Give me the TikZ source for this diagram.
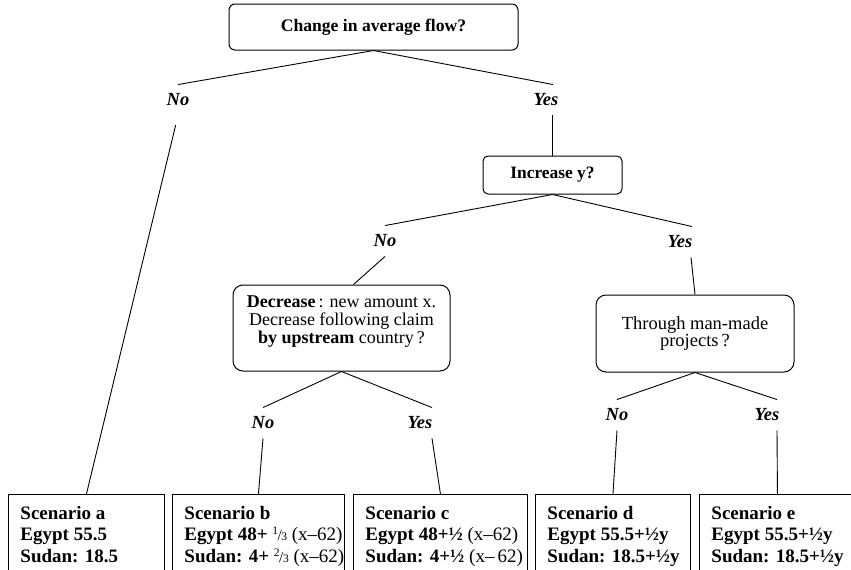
\documentclass[tikz,border=0pt]{standalone}
\usepackage{fontspec}
\setmainfont{Liberation Serif}
\newcommand\myfrac[2]{\raisebox{0.75ex}{\fontsize{11.5}{11.5}\selectfont\mdseries #1}\kern-0.5pt{\fontsize{15.5}{15.5}\selectfont\mdseries /}\kern-0.5pt{\fontsize{11.5}{11.5}\selectfont\mdseries #2}}
\begin{document}
\begin{tikzpicture}[x=1pt,y=-1pt,line width=0.9pt,
  qbox/.style={draw, line width=1pt, rounded corners=#1, inner sep=0pt, align=center},
  qbox/.default=6pt,
  qtext/.style={inner sep=0pt, align=center, font=\fontsize{18}{17.6}\selectfont},
  lbl/.style={font=\fontsize{18.5}{20}\selectfont\bfseries\itshape, inner sep=0pt, minimum height=30pt},
  scen/.style={anchor=north west, inner sep=0pt, minimum height=90pt},
  stext/.style={anchor=north west, xshift=12pt, yshift=-11.5pt, inner sep=0pt, align=left,
    font=\fontsize{19}{21.7}\selectfont\bfseries},
  frame/.style={line width=1pt}
]
\useasboundingbox (0,0) rectangle (851,570);
\clip (0,0) rectangle (851,570);

% question boxes
\node[qbox=6pt, minimum width=289pt, minimum height=46pt,
  font=\fontsize{17.6}{19}\selectfont\bfseries] (top) at (373.5,27) {\raisebox{-1.5pt}{Change in average flow?}};
\node[qbox=5pt, minimum width=139pt, minimum height=38pt,
  font=\fontsize{17.4}{19}\selectfont\bfseries] (inc) at (552.5,175) {Increase y?};
\node[qbox=10pt, minimum width=217pt, minimum height=86pt,
  label={[qtext, anchor=center, yshift=50pt]south:{\textbf{Decrease}\,: new amount x.\\Decrease following claim\\\textbf{by upstream} country\,?}}] (dec) at (341.5,328) {};
\node[qbox=10pt, minimum width=198pt, minimum height=77pt,
  font=\fontsize{18.5}{17.5}\selectfont] (thr) at (695,333.5) {Through man-made\\projects\,?};

% labels
\node[lbl] (no1) at (178,100) {No};
\node[lbl] (yes1) at (546,100) {Yes};
\node[lbl] (no2) at (385,241) {No};
\node[lbl] (yes2) at (680,242) {Yes};
\node[lbl] (no3) at (263,423) {No};
\node[lbl] (yes3) at (420,423) {Yes};
\node[lbl] (no4) at (617,415) {No};
\node[lbl] (yes4) at (767,415) {Yes};

% scenario boxes
\node[scen, minimum width=156pt, label={[stext]north west:{Scenario a\\Egypt 55.5\\Sudan: 18.5}}] (sa) at (8,494) {};
\node[scen, minimum width=172pt, label={[stext]north west:{Scenario b\\Egypt 48+ \myfrac{1}{3}\ {\mdseries(x–62)}\\Sudan: 4+ \myfrac{2}{3} {\mdseries(x–62)}}}] (sb) at (172,494) {};
\node[scen, minimum width=174pt, label={[stext]north west:{Scenario c\\Egypt 48+½ {\mdseries(x–62)}\\Sudan: 4+½ {\mdseries(x–\,62)}}}] (sc) at (353,494) {};
\node[scen, minimum width=155pt, label={[stext]north west:{Scenario d\\Egypt 55.5+½y\\Sudan: 18.5+½y}}] (sd) at (535,494) {};
\node[scen, minimum width=156pt, label={[stext]north west:{Scenario e\\Egypt 55.5+½y\\Sudan: 18.5+½y}}] (se) at (699,494) {};

\foreach \b in {sa,sb,sc,sd,se}
  \draw[frame] (\b.south west) -- (\b.north west) -- (\b.north east) -- (\b.south east);

% connectors
\draw (top.south) -- (no1.north);
\draw (top.south) -- ([xshift=7pt]yes1.north);
\draw[shorten <=10pt] (no1.south) -- (sa.north);
\draw ([xshift=6.5pt]yes1.south) -- (inc.north);
\draw (inc.south) -- (no2.north);
\draw (inc.south) -- ([xshift=12pt]yes2.north);
\draw (no2.south) -- ([xshift=12pt]dec.north);
\draw ([xshift=11pt]yes2.south) -- (thr.north);
\draw (dec.south) -- (no3.north);
\draw (dec.south) -- ([xshift=12pt]yes3.north);
\draw (no3.south) -- (sb.north);
\draw ([xshift=12pt]yes3.south) -- (sc.north);
\draw (thr.south) -- (no4.north);
\draw (thr.south) -- ([xshift=10pt]yes4.north);
\draw (no4.south) -- (sd.north);
\draw ([xshift=10pt]yes4.south) -- (se.north);
\end{tikzpicture}
\end{document}
